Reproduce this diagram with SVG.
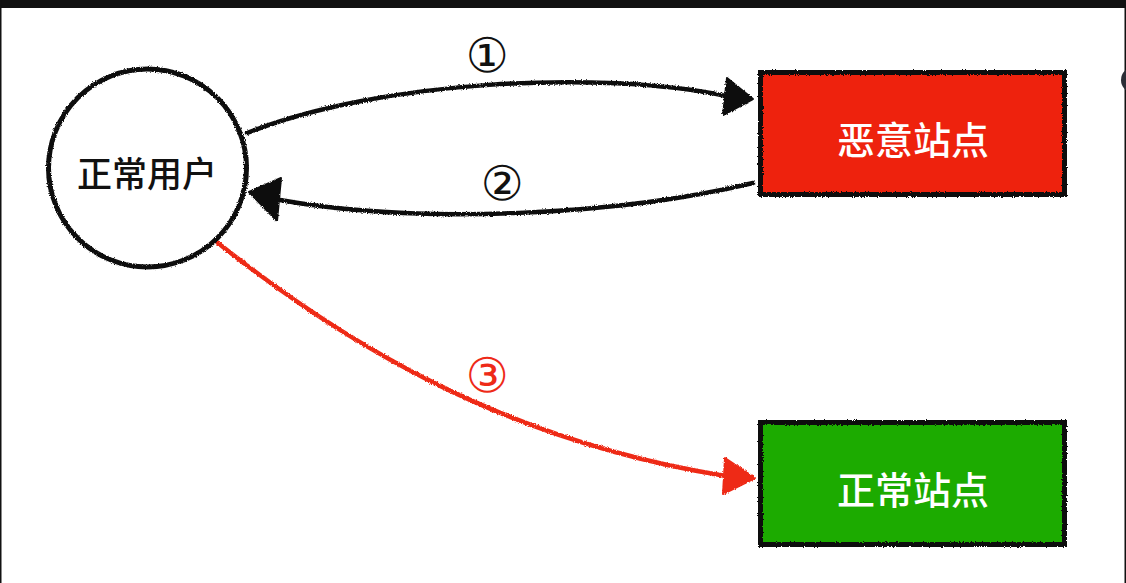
<svg xmlns="http://www.w3.org/2000/svg" width="1126" height="583" viewBox="0 0 1126 583">
  <style>
    .edge { fill: none; stroke-width: 4.5; stroke-linecap: round; }
    .blk { stroke: #111; }
    .red { stroke: #ee2a18; }
    .head-blk { fill: #111; stroke: #111; stroke-width: 2; stroke-linejoin: round; }
    .head-red { fill: #ee2a18; stroke: #ee2a18; stroke-width: 2; stroke-linejoin: round; }
    .node-line { stroke: #111; stroke-width: 5; }
    .label { font-family: "DejaVu Sans", "Noto Sans CJK SC", sans-serif; font-size: 48px; text-anchor: middle; dominant-baseline: central; }
    .ntext { font-family: "Noto Sans CJK SC", "Noto Sans CJK JP", sans-serif; font-weight: 500; text-anchor: middle; dominant-baseline: central; }
  </style>
  <defs>
    <filter id="rough" x="-5%" y="-5%" width="110%" height="110%">
      <feTurbulence type="fractalNoise" baseFrequency="0.9" numOctaves="2" seed="3" result="n"/>
      <feDisplacementMap in="SourceGraphic" in2="n" scale="3" xChannelSelector="R" yChannelSelector="G"/>
    </filter>
  </defs>

  <!-- page frame -->
  <rect x="0" y="0" width="1126" height="583" fill="#ffffff"/>
  <rect x="0" y="0" width="1126" height="8" fill="#111111"/>
  <rect x="0" y="0" width="1.5" height="583" fill="#111111"/>
  <rect x="1124.5" y="0" width="1.5" height="583" fill="#111111"/>
  <circle cx="1134" cy="80" r="13" fill="#2b2e36"/>

  <g id="connectors">
    <g id="edge1">
      <g filter="url(#rough)">
        <path class="edge blk" d="M247,133 C380,80 600,70 726,96"/>
        <polygon class="head-blk" points="753,99 727,78 723,115"/>
      </g>
      <text class="label" x="487" y="55" fill="#111">①</text>
    </g>
    <g id="edge2">
      <g filter="url(#rough)">
        <path class="edge blk" d="M753,183 C620,215 420,225 280,200"/>
        <polygon class="head-blk" points="249,192 281,178 277,221"/>
      </g>
      <text class="label" x="502" y="183" fill="#111">②</text>
    </g>
    <g id="edge3">
      <g filter="url(#rough)">
        <path class="edge red" d="M218,243 C340,340 500,440 726,476"/>
        <polygon class="head-red" points="755,478 725,458 723,494"/>
      </g>
      <text class="label" x="487" y="375" fill="#ee2a18">③</text>
    </g>
  </g>

  <g id="node-user">
    <circle cx="147.5" cy="168" r="99" fill="#ffffff" class="node-line" filter="url(#rough)"/>
    <text class="ntext" x="147" y="171" font-size="35" fill="#111">正常用户</text>
  </g>

  <g id="node-malicious">
    <rect x="760.5" y="72.5" width="304" height="122" fill="#ee2210" class="node-line" filter="url(#rough)"/>
    <text class="ntext" x="913" y="137" font-size="38" fill="#ffffff">恶意站点</text>
  </g>

  <g id="node-normal">
    <rect x="760.5" y="422.5" width="304" height="122" fill="#1cab04" class="node-line" filter="url(#rough)"/>
    <text class="ntext" x="913" y="487" font-size="38" fill="#ffffff">正常站点</text>
  </g>
</svg>
